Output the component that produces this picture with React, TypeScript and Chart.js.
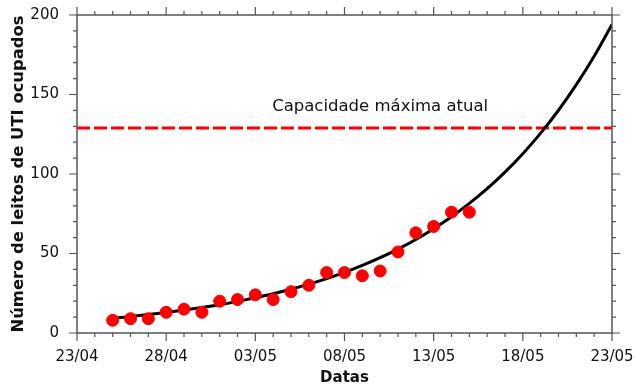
import React, { useEffect, useRef } from "react";
import { Chart, registerables } from "chart.js";

Chart.register(...registerables);

// Observed occupied ICU beds
const obsDates = ["25/04","26/04","27/04","28/04","29/04","30/04","01/05","02/05","03/05","04/05","05/05","06/05","07/05","08/05","09/05","10/05","11/05","12/05","13/05","14/05","15/05"];
const obsValues = [8, 9, 9, 13, 15, 13, 20, 21, 24, 21, 26, 30, 38, 38, 36, 39, 51, 63, 67, 76, 76];

// Fitted curve (one value per day)
const fitDates = ["25/04","26/04","27/04","28/04","29/04","30/04","01/05","02/05","03/05","04/05","05/05","06/05","07/05","08/05","09/05","10/05","11/05","12/05","13/05","14/05","15/05","16/05","17/05","18/05","19/05","20/05","21/05","22/05","23/05"];
const fitValues = [9.3, 10.4, 11.6, 12.9, 14.4, 16.0, 17.8, 19.9, 22.2, 24.7, 27.5, 30.7, 34.2, 38.1, 42.5, 47.4, 52.8, 58.8, 65.6, 73.1, 81.5, 90.8, 101.2, 112.8, 125.7, 140.1, 156.2, 174.1, 194.0];

// Capacity line
const capacityValue = 129;
const capacityLabel = "Capacidade máxima atual";
const capacityLabelDate = "10/05";
const capacityLabelY = 142.5;

// Axis
const xTickLabels = ["23/04", "28/04", "03/05", "08/05", "13/05", "18/05", "23/05"];
const xStartDate = "23/04";
const xEndDate = "23/05";
const yMin = 0;
const yMax = 200;
const yStep = 50;
const yMinorStep = 10;
const xMinorStep = 1;
const xMajorStep = 5;

const xTitle = "Datas";
const yTitle = "Número de leitos de UTI ocupados";

function dayOffset(label: string): number {
  const [d, m] = label.split("/").map(Number);
  // days counted from 23/04
  return m === 4 ? d - 23 : d + 7;
}

const FONT = "'DejaVu Sans', sans-serif";
const AXIS_COLOR = "#555555";

const framePlugin = {
  id: "frameTicks",
  afterDraw(chart: any) {
    const { ctx, chartArea } = chart;
    const xs = chart.scales.x;
    const ys = chart.scales.y;
    const { left, right, top, bottom } = chartArea;
    ctx.save();
    ctx.strokeStyle = AXIS_COLOR;
    ctx.lineWidth = 1.5;
    ctx.beginPath();
    ctx.rect(left, top, right - left, bottom - top);
    ctx.stroke();
    ctx.lineWidth = 1.2;
    const major = 8;
    const minor = 4;
    const x0 = dayOffset(xStartDate);
    const x1 = dayOffset(xEndDate);
    ctx.beginPath();
    for (let v = x0; v <= x1 + 1e-6; v += xMinorStep) {
      const px = xs.getPixelForValue(v);
      const len = (v - x0) % xMajorStep === 0 ? major : minor;
      ctx.moveTo(px, bottom);
      ctx.lineTo(px, bottom + len);
      ctx.moveTo(px, top);
      ctx.lineTo(px, top - len);
    }
    for (let v = yMin; v <= yMax + 1e-6; v += yMinorStep) {
      const py = ys.getPixelForValue(v);
      const len = v % yStep === 0 ? major : minor;
      ctx.moveTo(left, py);
      ctx.lineTo(left - len, py);
      ctx.moveTo(right, py);
      ctx.lineTo(right + len, py);
    }
    ctx.stroke();

    // capacity label
    ctx.fillStyle = "#111111";
    ctx.font = `16.5px ${FONT}`;
    ctx.textAlign = "center";
    ctx.textBaseline = "middle";
    ctx.fillText(
      capacityLabel,
      xs.getPixelForValue(dayOffset(capacityLabelDate)),
      ys.getPixelForValue(capacityLabelY)
    );
    ctx.restore();
  },
};

export default function App() {
  const ref = useRef<HTMLCanvasElement | null>(null);
  useEffect(() => {
    document.body.style.margin = "0";
    const canvas = ref.current;
    if (!canvas) return;
    const x0 = dayOffset(xStartDate);
    const x1 = dayOffset(xEndDate);
    const chart = new Chart(canvas, {
      type: "scatter",
      data: {
        datasets: [
          {
            type: "line",
            label: "capacity",
            data: [
              { x: x0, y: capacityValue },
              { x: x1, y: capacityValue },
            ],
            borderColor: "#ff0000",
            borderWidth: 3,
            borderDash: [13, 4],
            pointRadius: 0,
            order: 3,
          } as any,
          {
            type: "line",
            label: "fit",
            data: fitDates.map((d, i) => ({ x: dayOffset(d), y: fitValues[i] })),
            borderColor: "#000000",
            borderWidth: 3,
            pointRadius: 0,
            cubicInterpolationMode: "monotone",
            order: 2,
          } as any,
          {
            type: "scatter",
            label: "obs",
            data: obsDates.map((d, i) => ({ x: dayOffset(d), y: obsValues[i] })),
            backgroundColor: "#ff0000",
            borderColor: "#ff0000",
            pointRadius: 6,
            pointHoverRadius: 6,
            order: 1,
          },
        ],
      },
      options: {
        responsive: false,
        animation: false,
        maintainAspectRatio: false,
        layout: { padding: { top: 15, right: 24, left: 0, bottom: 0 } },
        plugins: { legend: { display: false }, tooltip: { enabled: false } },
        scales: {
          x: {
            type: "linear",
            min: x0,
            max: x1,
            grid: { display: false },
            border: { display: false },
            ticks: {
              stepSize: xMajorStep,
              padding: 7,
              color: "#111111",
              font: { family: FONT, size: 15 },
              maxRotation: 0,
              autoSkip: false,
              callback: (v: any) => {
                const idx = Math.round((Number(v) - x0) / xMajorStep);
                return xTickLabels[idx] ?? "";
              },
            },
            title: {
              display: true,
              text: xTitle,
              color: "#111111",
              font: { family: FONT, size: 15, weight: "bold" },
              padding: { top: 0, bottom: -2 },
            },
            afterFit: (s: any) => {
              s.height = 52;
              s.paddingLeft = 0;
              s.paddingRight = 0;
            },
          },
          y: {
            type: "linear",
            min: yMin,
            max: yMax,
            grid: { display: false },
            border: { display: false },
            ticks: {
              stepSize: yStep,
              padding: 10,
              color: "#111111",
              font: { family: FONT, size: 15 },
            },
            title: {
              display: true,
              text: yTitle,
              color: "#111111",
              font: { family: FONT, size: 16.4, weight: "bold" },
              padding: { top: 9, bottom: 0 },
            },
            afterFit: (s: any) => {
              s.width = 77;
              s.paddingTop = 0;
              s.paddingBottom = 0;
            },
          },
        },
      },
      plugins: [framePlugin],
    });
    return () => chart.destroy();
  }, []);
  return <canvas ref={ref} width={636} height={385} style={{ display: "block" }} />;
}
